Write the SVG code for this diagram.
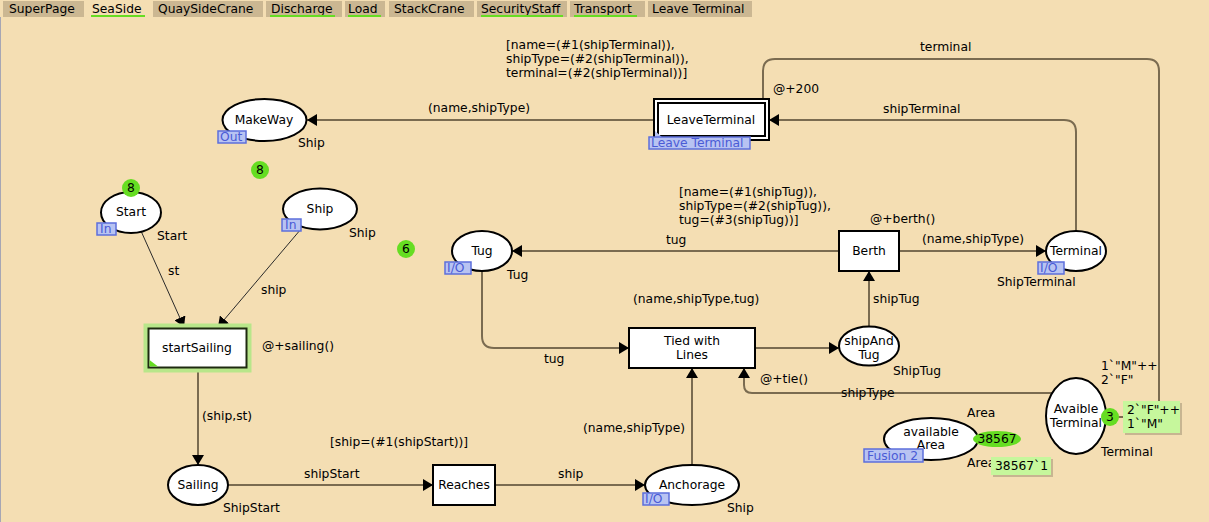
<svg xmlns="http://www.w3.org/2000/svg" width="1209" height="522" viewBox="0 0 1209 522">
<style>
text{font-family:"DejaVu Sans","Liberation Sans",sans-serif;font-size:12.3px;fill:#000}
.c{text-anchor:middle}
.tab{fill:#CBB792}
.tabsel{fill:#F4DEB3}
.ul{stroke:#66DD22;stroke-width:2}
.pl{fill:#fff;stroke:#000;stroke-width:2}
.tr{fill:#fff;stroke:#000;stroke-width:2}
.arc{fill:none;stroke:#7A6B50;stroke-width:2;marker-end:url(#ah)}
.arcn{fill:none;stroke:#7A6B50;stroke-width:2}
.thin{fill:none;stroke:#2A2A2A;stroke-width:1;marker-end:url(#ah)}
.tag{fill:#B8C3F2;stroke:#5C6FDB;stroke-width:1.5}
.tagt{fill:#4A5BD6}
.tok{fill:#66DD22}
.mk{fill:#C6F79C}
.sh{fill:#9A8C70;opacity:0.5}
</style>
<defs>
<marker id="ah" viewBox="0 0 10 12" refX="10" refY="6" markerWidth="10" markerHeight="12" markerUnits="userSpaceOnUse" orient="auto">
<path d="M0,0 L10,6 L0,12 z" fill="#000"/>
</marker>
</defs>
<rect x="0" y="0" width="1209" height="522" fill="#F4DEB3"/>
<line x1="0.5" y1="17" x2="0.5" y2="522" stroke="#A6A6B4" stroke-width="1"/>
<g id="tabs">
<rect class="tab" x="3" y="1" width="81" height="16"/><text x="9" y="13">SuperPage</text>
<rect class="tabsel" x="86" y="1" width="64" height="16"/><text x="92" y="13">SeaSide</text><line class="ul" x1="91" y1="16" x2="145" y2="16"/>
<rect class="tab" x="153" y="1" width="110" height="16"/><text x="158" y="13">QuaySideCrane</text>
<rect class="tab" x="266" y="1" width="76" height="16"/><text x="271" y="13">Discharge</text><line class="ul" x1="270" y1="16" x2="335" y2="16"/>
<rect class="tab" x="345" y="1" width="40" height="16"/><text x="348" y="13">Load</text><line class="ul" x1="348" y1="16" x2="381" y2="16"/>
<rect class="tab" x="389" y="1" width="85" height="16"/><text x="394" y="13">StackCrane</text>
<rect class="tab" x="477" y="1" width="90" height="16"/><text x="481" y="13">SecurityStaff</text><line class="ul" x1="481" y1="16" x2="563" y2="16"/>
<rect class="tab" x="570" y="1" width="75" height="16"/><text x="574" y="13">Transport</text><line class="ul" x1="574" y1="16" x2="637" y2="16"/>
<rect class="tab" x="648" y="1" width="104" height="16"/><text x="652" y="13">Leave Terminal</text>
</g>
<g id="connectors">
<path class="arc" d="M653,120 L307,120"/>
<path class="arc" d="M1076,231 L1076,132 Q1076,120 1064,120 L769,120"/>
<path class="arcn" d="M763,99 L763,71 Q763,59 775,59 L1147,59 Q1159,59 1159,71 L1159,410"/>
<path class="arc" d="M899,251 L1046,251"/>
<path class="arc" d="M839,251 L512,251"/>
<path class="arc" d="M482,271 L482,336 Q482,348 494,348 L629,348"/>
<path class="arc" d="M755,348 L839,348"/>
<path class="arc" d="M869,327 L869,271"/>
<path class="arc" d="M692,465 L692,368"/>
<path class="arc" d="M1052,393 L752,393 Q744,393 744,385 L744,368"/>
<path class="arc" d="M228,485 L433,485"/>
<path class="arc" d="M495,485 L645,485"/>
<path class="arc" d="M198,368 L198,465"/>
<path class="thin" d="M141,231 L184,327"/>
<path class="thin" d="M301,229 L218,327"/>
<line x1="1118" y1="417" x2="1124" y2="417" stroke="#7A6B50" stroke-width="2"/>
<text x="428" y="112">(name,shipType)</text>
<text x="883" y="113">shipTerminal</text>
<text x="920" y="51">terminal</text>
<text x="773" y="93">@+200</text>
<text x="922" y="243">(name,shipType)</text>
<text x="666" y="244">tug</text>
<text x="544" y="363">tug</text>
<text x="873" y="303">shipTug</text>
<text x="583" y="432">(name,shipType)</text>
<text x="841" y="397">shipType</text>
<text x="304" y="478">shipStart</text>
<text x="558" y="478">ship</text>
<text x="202" y="420">(ship,st)</text>
<text x="168" y="275">st</text>
<text x="261" y="294">ship</text>
</g>
<g id="MakeWay">
<ellipse class="pl" cx="264.5" cy="120" rx="42" ry="21"/>
<text class="c" x="264" y="124">MakeWay</text>
<rect class="tag" x="218" y="131" width="28" height="12"/><text class="tagt" x="220" y="141">Out</text>
<text x="298" y="147">Ship</text>
</g>
<g id="token8a"><circle class="tok" cx="260" cy="170" r="9"/><text class="c" x="260" y="174">8</text></g>
<g id="token6"><circle class="tok" cx="406" cy="249" r="9"/><text class="c" x="406" y="253">6</text></g>
<g id="Start">
<ellipse class="pl" cx="131" cy="212.5" rx="30" ry="20.5"/>
<text class="c" x="131" y="216">Start</text>
<rect class="tag" x="97" y="223" width="19" height="12"/><text class="tagt" x="100" y="233">In</text>
<text x="157" y="240">Start</text>
<circle class="tok" cx="131" cy="188" r="9"/><text class="c" x="131" y="192">8</text>
</g>
<g id="Ship">
<ellipse class="pl" cx="320" cy="209" rx="37" ry="20.5"/>
<text class="c" x="320" y="213">Ship</text>
<rect class="tag" x="282" y="219" width="19" height="12"/><text class="tagt" x="285" y="229">In</text>
<text x="349" y="237">Ship</text>
</g>
<g id="startSailing">
<rect x="146" y="326" width="103" height="44" fill="none" stroke="#B8E68A" stroke-width="5"/>
<rect x="148.5" y="328.5" width="98" height="39" fill="#fff" stroke="#1E2A10" stroke-width="2"/>
<path d="M149.5,360 L149.5,366.5 L158,366.5 z" fill="#66DD22"/>
<text class="c" x="197" y="352">startSailing</text>
<text x="262" y="350">@+sailing()</text>
</g>
<g id="Sailing">
<ellipse class="pl" cx="198" cy="485" rx="30" ry="20"/>
<text class="c" x="198" y="489">Sailing</text>
<text x="223" y="512">ShipStart</text>
</g>
<g id="Reaches">
<rect class="tr" x="433" y="465" width="62" height="40"/>
<text class="c" x="464" y="489">Reaches</text>
<text x="330" y="446">[ship=(#1(shipStart))]</text>
</g>
<g id="Anchorage">
<ellipse class="pl" cx="692" cy="485" rx="47" ry="20"/>
<text class="c" x="692" y="489">Anchorage</text>
<rect class="tag" x="643" y="493" width="26" height="12"/><text class="tagt" x="645" y="503">I/O</text>
<text x="727" y="512">Ship</text>
</g>
<g id="TiedWithLines">
<rect class="tr" x="629" y="328" width="126" height="40"/>
<text class="c" x="692" y="345">Tied with</text>
<text class="c" x="692" y="359">Lines</text>
<text x="633" y="303">(name,shipType,tug)</text>
<text x="760" y="383">@+tie()</text>
</g>
<g id="Tug">
<ellipse class="pl" cx="482" cy="251" rx="30" ry="20"/>
<text class="c" x="482" y="255">Tug</text>
<rect class="tag" x="445" y="262" width="26" height="12"/><text class="tagt" x="447" y="272">I/O</text>
<text x="507" y="279">Tug</text>
</g>
<g id="Berth">
<rect class="tr" x="839" y="231" width="60" height="40"/>
<text class="c" x="869" y="255">Berth</text>
<text x="870" y="223">@+berth()</text>
<text x="679" y="196">[name=(#1(shipTug)),</text>
<text x="679" y="210">shipType=(#2(shipTug)),</text>
<text x="679" y="224">tug=(#3(shipTug))]</text>
</g>
<g id="Terminal">
<ellipse class="pl" cx="1076" cy="251" rx="30" ry="20"/>
<text class="c" x="1076" y="255">Terminal</text>
<rect class="tag" x="1038" y="262" width="26" height="12"/><text class="tagt" x="1040" y="272">I/O</text>
<text x="997" y="286">ShipTerminal</text>
</g>
<g id="shipAndTug">
<ellipse class="pl" cx="869" cy="346" rx="30" ry="19.5"/>
<text class="c" x="869" y="345">shipAnd</text>
<text class="c" x="869" y="359">Tug</text>
<text x="893" y="375">ShipTug</text>
</g>
<g id="LeaveTerminal">
<rect class="tr" x="654" y="99" width="115" height="41"/>
<rect class="tr" x="658" y="103" width="107" height="33"/>
<text class="c" x="711" y="124">LeaveTerminal</text>
<path d="M655,131 L655,138 L663,138 z" fill="#B8C3F2"/>
<rect class="tag" x="649" y="137" width="101" height="12"/><text class="tagt" x="651" y="147">Leave Terminal</text>
<text x="506" y="49">[name=(#1(shipTerminal)),</text>
<text x="506" y="63">shipType=(#2(shipTerminal)),</text>
<text x="506" y="77">terminal=(#2(shipTerminal))]</text>
</g>
<g id="AvaibleTerminal">
<ellipse class="pl" cx="1076" cy="416" rx="30" ry="38"/>
<text class="c" x="1076" y="413">Avaible</text>
<text class="c" x="1076" y="427">Terminal</text>
<text x="1101" y="456">Terminal</text>
<text x="1101" y="370">1`"M"++</text>
<text x="1101" y="384">2`"F"</text>
<circle class="tok" cx="1110" cy="417" r="9"/><text class="c" x="1110" y="421">3</text>
<rect class="sh" x="1125" y="403" width="57" height="32"/>
<rect class="mk" x="1123" y="401" width="57" height="32"/>
<text x="1127" y="414">2`"F"++</text>
<text x="1127" y="428">1`"M"</text>
</g>
<g id="availableArea">
<ellipse class="pl" cx="931" cy="439" rx="47" ry="21"/>
<text class="c" x="931" y="436">available</text>
<text class="c" x="931" y="449">Area</text>
<rect class="tag" x="864" y="449" width="59" height="13"/><text class="tagt" x="867" y="460">Fusion 2</text>
<text x="967" y="417">Area</text>
<text x="967" y="467">Area</text>
<ellipse class="tok" cx="997" cy="439" rx="24" ry="8"/>
<text class="c" x="997" y="443">38567</text>
<rect class="sh" x="993" y="459" width="60" height="18"/>
<rect class="mk" x="991" y="457" width="60" height="18"/>
<text x="995" y="470">38567`1</text>
</g>
</svg>
